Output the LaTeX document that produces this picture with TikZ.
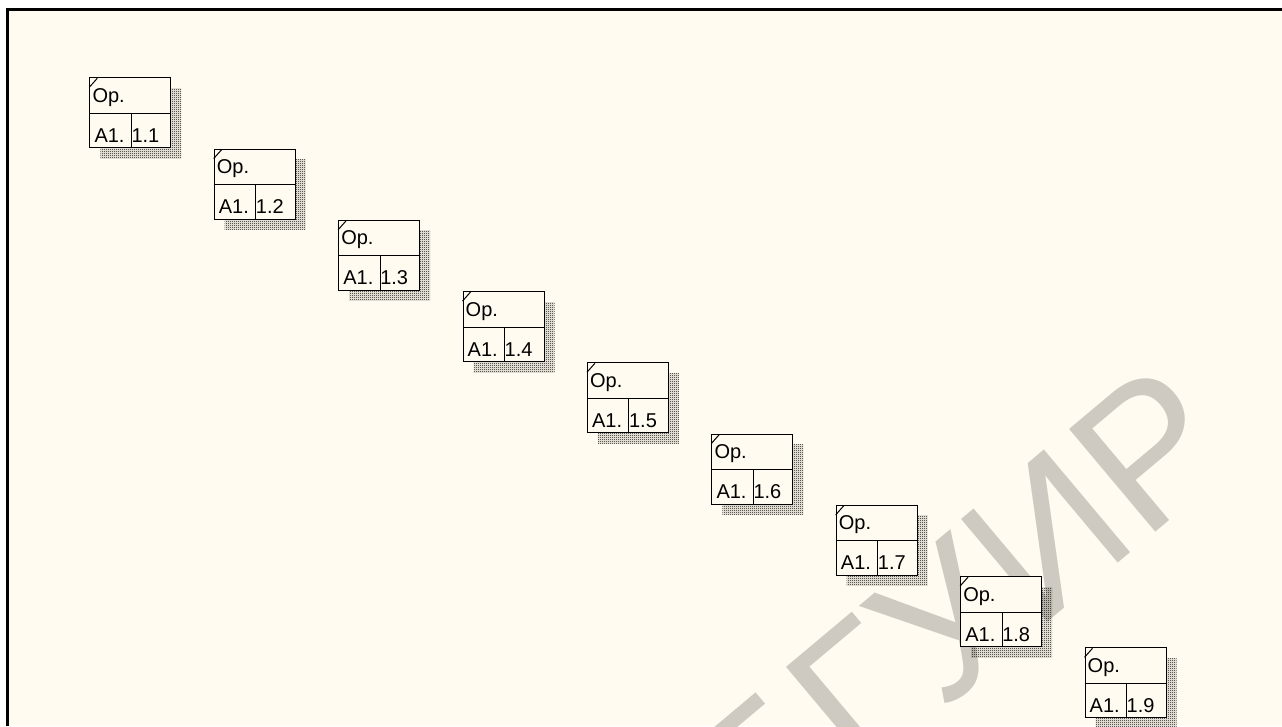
\documentclass[tikz,border=0pt]{standalone}
\usepackage{fontspec}
\setmainfont{Liberation Sans}
\usetikzlibrary{patterns,calc}
\definecolor{bg}{RGB}{255,251,240}
\definecolor{wm}{RGB}{206,202,193}
\pgfdeclarepatternformonly{checker}{\pgfpointorigin}{\pgfpoint{2pt}{2pt}}{\pgfpoint{2pt}{2pt}}{%
  \pgfpathrectangle{\pgfpointorigin}{\pgfpoint{1pt}{1pt}}%
  \pgfpathrectangle{\pgfpoint{1pt}{1pt}}{\pgfpoint{1pt}{1pt}}%
  \pgfusepath{fill}}
\tikzset{
  opbox/.style={draw=black, line width=1pt, fill=bg, minimum width=81pt, minimum height=70pt, inner sep=0pt, anchor=north west},
  shadowbox/.style={pattern=checker, pattern color=black},
  lbl/.style={font=\fontsize{20}{20}\selectfont, inner sep=0pt, anchor=base west},
  thinline/.style={draw=black, line width=1pt},
  frameline/.style={draw=black, line width=3pt},
}
\begin{document}
\begin{tikzpicture}[x=1pt,y=-1pt]
\fill[white] (0,0) rectangle (1282,726);
\useasboundingbox (0,0) rectangle (1282,726);
\fill[bg] (7,9) rectangle (1282,726);
\begin{scope}
  \clip (7,9) rectangle (1282,726);
  \node[text=wm, font=\fontsize{195}{195}\selectfont, rotate=40, inner sep=0pt] (wmark) at (960,610) {БГУИР};
\end{scope}
\draw[frameline] (7,726) -- (7,9) -- (1282,9);
\foreach \i in {1,...,9}{
  \pgfmathsetmacro{\x}{89.3+(\i-1)*124.4}
  \pgfmathsetmacro{\y}{77.3+(\i-1)*71.25}
  \fill[shadowbox] (\x+11,\y+11) rectangle ++(81,70);
  \node[opbox] (b\i) at (\x,\y) {};
  \draw[thinline] ($(b\i.north west)+(0,36)$) -- ($(b\i.north east)+(0,36)$);
  \draw[thinline] ($(b\i.north west)+(42,36)$) -- ($(b\i.south west)+(42,0)$);
  \draw[thinline] ($(b\i.north west)+(0,10)$) -- ($(b\i.north west)+(8,1)$);
  \node[lbl] (op\i) at (\x+3,\y+25) {Op.};
  \node[lbl] (a\i) at (\x+5,\y+65) {A1.};
  \node[lbl] (n\i) at (\x+42,\y+65) {1.\i};
}
\end{tikzpicture}
\end{document}
